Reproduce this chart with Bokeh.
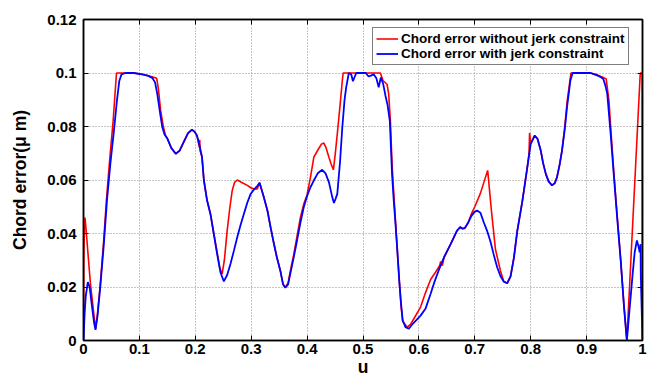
from bokeh.plotting import figure
from bokeh.models import FixedTicker, LinearAxis, Range1d, Legend, LegendItem
from bokeh.embed import file_html
from bokeh.resources import INLINE

# ---------------- data ----------------
x_ticks = [0, 0.1, 0.2, 0.3, 0.4, 0.5, 0.6, 0.7, 0.8, 0.9, 1]
x_tick_labels = ["0", "0.1", "0.2", "0.3", "0.4", "0.5", "0.6", "0.7", "0.8", "0.9", "1"]
y_ticks = [0, 0.02, 0.04, 0.06, 0.08, 0.1, 0.12]
y_tick_labels = ["0", "0.02", "0.04", "0.06", "0.08", "0.1", "0.12"]

series_names = ["Chord error without jerk constraint", "Chord error with jerk constraint"]

u_blue = [0.0, 0.002, 0.004, 0.0077, 0.011, 0.015, 0.019, 0.0215, 0.025, 0.03, 0.036, 0.042, 0.048,
          0.054, 0.060, 0.064, 0.068, 0.075, 0.09, 0.105, 0.115, 0.123, 0.128, 0.132, 0.137, 0.141,
          0.145, 0.150, 0.157, 0.165, 0.172, 0.179, 0.187, 0.194, 0.199, 0.203, 0.208, 0.212, 0.2153,
          0.221, 0.227, 0.233, 0.239, 0.245, 0.251, 0.257, 0.263, 0.269, 0.275, 0.281, 0.287, 0.293,
          0.299, 0.305, 0.310, 0.315, 0.322, 0.329, 0.335, 0.340, 0.346, 0.352, 0.357, 0.361, 0.366,
          0.370, 0.376, 0.382, 0.388, 0.394, 0.400, 0.406, 0.412, 0.419, 0.427, 0.433, 0.439, 0.445,
          0.448, 0.451, 0.454, 0.459, 0.463, 0.467, 0.470, 0.4746, 0.479, 0.482, 0.485, 0.488, 0.505,
          0.510, 0.514, 0.519, 0.524, 0.528, 0.532, 0.536, 0.540, 0.544, 0.548, 0.552, 0.555, 0.558,
          0.561, 0.565, 0.568, 0.571, 0.576, 0.582, 0.588, 0.595, 0.603, 0.612, 0.621, 0.628, 0.635,
          0.645, 0.657, 0.668, 0.674, 0.678, 0.682, 0.688, 0.694, 0.699, 0.704, 0.710, 0.716, 0.722,
          0.728, 0.734, 0.740, 0.746, 0.752, 0.758, 0.764, 0.770, 0.776, 0.785, 0.794, 0.800, 0.807,
          0.812, 0.818, 0.822, 0.827, 0.832, 0.838, 0.843, 0.847, 0.852, 0.856, 0.861, 0.865, 0.871,
          0.875, 0.907, 0.913, 0.919, 0.925, 0.930, 0.934, 0.937, 0.943, 0.949, 0.955, 0.961, 0.967,
          0.972, 0.977, 0.982, 0.986, 0.990, 0.993, 0.995, 0.9965, 0.997, 1.0]
e_blue = [0.0, 0.010, 0.0165, 0.0218, 0.020, 0.013, 0.0065, 0.0040, 0.009, 0.020, 0.035, 0.0524, 0.066,
          0.0775, 0.090, 0.097, 0.0995, 0.1, 0.1, 0.0995, 0.099, 0.0982, 0.0965, 0.0922, 0.085, 0.0797,
          0.077, 0.0755, 0.072, 0.0698, 0.071, 0.0741, 0.0775, 0.0788, 0.078, 0.0766, 0.0725, 0.0686, 0.0600,
          0.0524, 0.0474, 0.040, 0.0324, 0.0255, 0.0221, 0.0245, 0.0287, 0.0335, 0.0386, 0.0432, 0.0474, 0.0515,
          0.0548, 0.0565, 0.0575, 0.059, 0.054, 0.0486, 0.042, 0.0368, 0.031, 0.0262, 0.021, 0.0197, 0.021,
          0.025, 0.031, 0.0374, 0.044, 0.0498, 0.0540, 0.0573, 0.0598, 0.0625, 0.0638, 0.0625, 0.0592, 0.0536,
          0.0514, 0.053, 0.0548, 0.067, 0.0797, 0.090, 0.0947, 0.1, 0.0995, 0.0969, 0.0985, 0.1, 0.1,
          0.0987, 0.099, 0.0995, 0.098, 0.0947, 0.0983, 0.096, 0.0917, 0.088, 0.082, 0.062, 0.0524, 0.044,
          0.0349, 0.022, 0.014, 0.0075, 0.005, 0.0044, 0.006, 0.0075, 0.0093, 0.012, 0.0175, 0.022, 0.026,
          0.0312, 0.0361, 0.041, 0.0424, 0.0418, 0.042, 0.044, 0.0466, 0.048, 0.0486, 0.0478, 0.0442, 0.041,
          0.037, 0.032, 0.0274, 0.024, 0.022, 0.0214, 0.024, 0.031, 0.041, 0.052, 0.0648, 0.0735, 0.0766,
          0.0755, 0.071, 0.0665, 0.0623, 0.0595, 0.058, 0.0588, 0.061, 0.066, 0.071, 0.079, 0.0872, 0.0972,
          0.1, 0.1, 0.0996, 0.0991, 0.0985, 0.0978, 0.095, 0.0922, 0.0773, 0.061, 0.045, 0.030, 0.0125,
          0.0, 0.012, 0.024, 0.033, 0.0374, 0.035, 0.033, 0.036, 0.024, 0.0]

u_red = [0.0, 0.0005, 0.002, 0.003, 0.0125, 0.0215, 0.025, 0.03, 0.036, 0.041, 0.047, 0.053, 0.059,
         0.070, 0.09, 0.105, 0.115, 0.124, 0.131, 0.134, 0.138, 0.143, 0.147, 0.150, 0.157, 0.165, 0.172,
         0.179, 0.187, 0.194, 0.199, 0.203, 0.2075, 0.208, 0.2085, 0.212, 0.2153, 0.221, 0.227, 0.233,
         0.239, 0.244, 0.248, 0.252, 0.257, 0.262, 0.266, 0.270, 0.275, 0.284, 0.293, 0.300, 0.305, 0.311,
         0.315, 0.322, 0.329, 0.335, 0.340, 0.346, 0.352, 0.357, 0.361, 0.366, 0.370, 0.376, 0.382, 0.388,
         0.394, 0.400, 0.406, 0.412, 0.420, 0.426, 0.430, 0.434, 0.439, 0.443, 0.447, 0.450, 0.454, 0.459,
         0.463, 0.4645, 0.476, 0.531, 0.536, 0.543, 0.546, 0.549, 0.552, 0.555, 0.558, 0.561, 0.565, 0.568,
         0.571, 0.579, 0.585, 0.592, 0.603, 0.612, 0.621, 0.630, 0.637, 0.639, 0.642, 0.645, 0.657, 0.668,
         0.674, 0.678, 0.682, 0.688, 0.694, 0.700, 0.710, 0.723, 0.730, 0.737, 0.746, 0.752, 0.758, 0.764,
         0.770, 0.776, 0.785, 0.794, 0.797, 0.798, 0.800, 0.807, 0.812, 0.818, 0.822, 0.827, 0.832, 0.838,
         0.843, 0.847, 0.852, 0.856, 0.861, 0.865, 0.872, 0.907, 0.919, 0.928, 0.935, 0.940, 0.943, 0.949,
         0.955, 0.961, 0.967, 0.972, 0.996, 0.9995, 1.0]
e_red = [0.0, 0.030, 0.046, 0.0455, 0.021, 0.0044, 0.010, 0.021, 0.037, 0.0524, 0.068, 0.082, 0.1,
         0.1, 0.1, 0.0995, 0.099, 0.0985, 0.098, 0.094, 0.086, 0.0797, 0.0765, 0.0755, 0.072, 0.0698, 0.071,
         0.0741, 0.0775, 0.0788, 0.078, 0.0766, 0.072, 0.075, 0.071, 0.0686, 0.0600, 0.0524, 0.0474, 0.040,
         0.033, 0.027, 0.0249, 0.030, 0.0411, 0.050, 0.056, 0.059, 0.0600, 0.059, 0.058, 0.057, 0.0567, 0.0567,
         0.059, 0.054, 0.0486, 0.042, 0.0368, 0.031, 0.0262, 0.021, 0.0198, 0.0215, 0.026, 0.032, 0.039, 0.046,
         0.051, 0.0545, 0.061, 0.0685, 0.0715, 0.0735, 0.0738, 0.072, 0.0685, 0.066, 0.0638, 0.069, 0.0773, 0.088,
         0.0972, 0.1, 0.1, 0.1, 0.0971, 0.0958, 0.092, 0.082, 0.066, 0.055, 0.045, 0.035, 0.022, 0.013,
         0.0072, 0.0050, 0.006, 0.0085, 0.0125, 0.018, 0.0228, 0.0256, 0.0280, 0.0295, 0.028, 0.031, 0.0361, 0.041,
         0.0424, 0.0418, 0.042, 0.044, 0.0474, 0.050, 0.055, 0.0636, 0.048, 0.034, 0.026, 0.022, 0.0214, 0.024,
         0.031, 0.041, 0.052, 0.0648, 0.070, 0.0776, 0.0735, 0.0766, 0.0755, 0.071, 0.0665, 0.0623, 0.0595, 0.058,
         0.0588, 0.061, 0.066, 0.071, 0.080, 0.089, 0.1, 0.1, 0.0993, 0.0985, 0.0978, 0.0897, 0.080, 0.062,
         0.046, 0.030, 0.0125, 0.0, 0.1, 0.1, 0.0]

x_label = "u"
y_label = "Chord error(\u03bc m)"

# ---------------- figure ----------------
FONT = "Liberation Sans"

p = figure(width=649, height=381, output_backend="svg", toolbar_location=None,
           x_range=Range1d(0, 1), y_range=Range1d(0, 0.12),
           min_border_left=83, min_border_right=7, min_border_top=19, min_border_bottom=41)
p.background_fill_color = "white"
p.border_fill_color = "white"
p.outline_line_color = "black"
p.outline_line_width = 1.5

xt = FixedTicker(ticks=x_ticks)
yt = FixedTicker(ticks=y_ticks)

def style_axis(ax, ticker, labels, show):
    ax.ticker = ticker
    ax.axis_line_color = "black"
    ax.axis_line_width = 1.5
    ax.major_tick_line_color = "black"
    ax.major_tick_line_width = 1
    ax.major_tick_in = 5
    ax.major_tick_out = 0
    ax.minor_tick_line_color = None
    if show:
        ax.major_label_overrides = {t: l for t, l in zip(ticker.ticks, labels)}
        ax.major_label_text_font = FONT
        ax.major_label_text_font_style = "bold"
        ax.major_label_text_font_size = "15px"
        ax.major_label_text_color = "black"
        ax.axis_label_text_color = "black"
        ax.axis_label_text_font = FONT
        ax.axis_label_text_font_style = "bold"
        ax.axis_label_text_font_size = "17.5px"
    else:
        ax.major_label_overrides = {t: "" for t in ticker.ticks}
        ax.major_label_text_font_size = "0px"
        ax.major_label_standoff = 0

xa = p.xaxis[0]
style_axis(xa, xt, x_tick_labels, True)
xa.major_label_standoff = 3
xa.axis_label = x_label
xa.axis_label_standoff = 0
xa.axis_label_text_baseline = "bottom"

ya = p.yaxis[0]
style_axis(ya, yt, y_tick_labels, True)
ya.major_label_standoff = 7
ya.axis_label = y_label
ya.axis_label_standoff = 14

top = LinearAxis()
style_axis(top, xt, x_tick_labels, False)
p.add_layout(top, "above")
right = LinearAxis()
style_axis(right, yt, y_tick_labels, False)
p.add_layout(right, "right")

for g, t in ((p.xgrid[0], xt), (p.ygrid[0], yt)):
    g.ticker = t
    g.grid_line_color = "#8c8c8c"
    g.grid_line_dash = "1 2"
    g.grid_line_width = 1

r_red = p.line(u_red, e_red, line_color="#ff0000", line_width=1.6)
r_blue = p.line(u_blue, e_blue, line_color="#0000ff", line_width=1.8)

legend = Legend(items=[LegendItem(label=series_names[0], renderers=[r_red]),
                       LegendItem(label=series_names[1], renderers=[r_blue])],
                location=(289, 275))
legend.border_line_color = "black"
legend.border_line_width = 1.2
legend.background_fill_color = "white"
legend.background_fill_alpha = 1
legend.label_text_font = FONT
legend.label_text_font_style = "bold"
legend.label_text_font_size = "13.5px"
legend.label_text_color = "black"
legend.padding = 3
legend.spacing = 0
legend.margin = 0
legend.glyph_width = 22
legend.glyph_height = 15
legend.label_height = 15
legend.label_standoff = 3
p.add_layout(legend, "center")

open("out.html", "w").write(file_html(p, INLINE))
